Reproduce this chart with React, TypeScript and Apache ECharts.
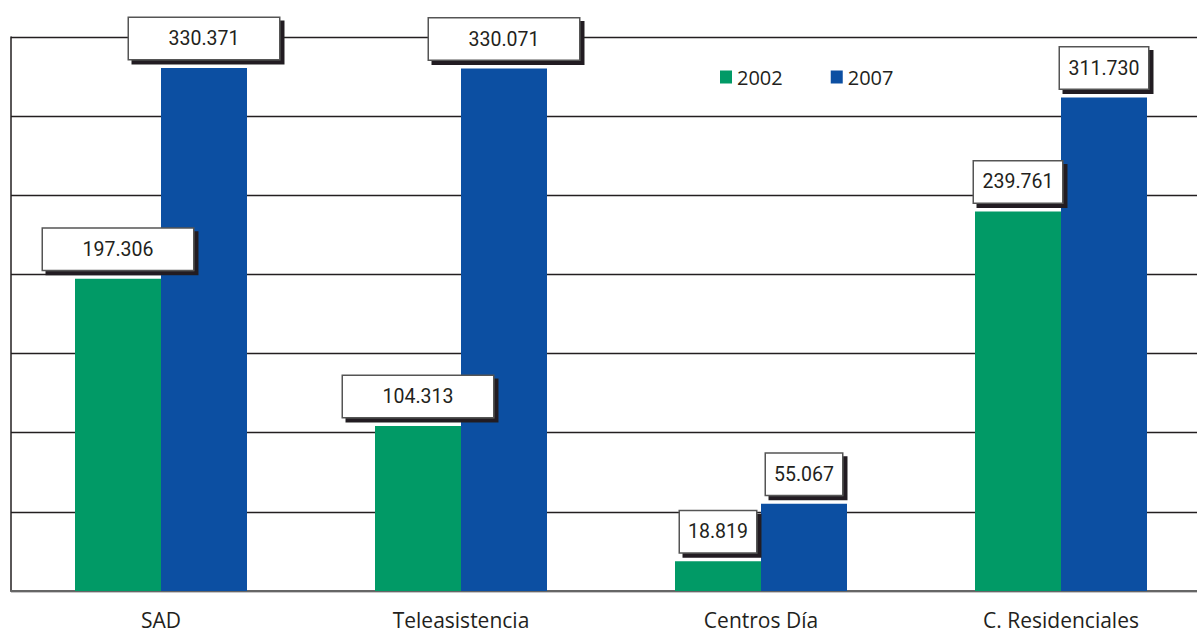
import React, { useEffect, useRef } from "react";
import * as echarts from "echarts";

const categories = ["SAD", "Teleasistencia", "Centros Día", "C. Residenciales"];
const values2002 = [197306, 104313, 18819, 239761];
const values2007 = [330371, 330071, 55067, 311730];
const seriesNames = ["2002", "2007"];

const GREEN = "#019a66";
const BLUE = "#0c4fa2";
const DARK = "#231f20";
const labelWidths2002 = [150, 150, 76, 88];
const labelWidths2007 = [150, 150, 76, 88];

const fmt = (v: number) => (v / 1000).toFixed(3);

function makeData(vals: number[], widths: number[]) {
  return vals.map((v, i) => ({ value: v, label: { width: widths[i] } }));
}

const labelStyle = {
  show: true,
  position: "top" as const,
  distance: 9,
  formatter: (p: any) => fmt(p.value),
  fontFamily: 'Roboto, "Liberation Sans Narrow", sans-serif',
  fontSize: 19.5,
  color: DARK,
  backgroundColor: "#ffffff",
  borderColor: "#555555",
  borderWidth: 1.5,
  height: 41,
  lineHeight: 41,
  align: "center" as const,
  padding: [0, 0],
  shadowColor: DARK,
  shadowOffsetX: 4,
  shadowOffsetY: 4,
  shadowBlur: 0,
};

export default function App() {
  const ref = useRef<HTMLDivElement>(null);
  useEffect(() => {
    if (!ref.current) return;
    const chart = echarts.init(ref.current, null, { renderer: "svg" });
    chart.setOption({
      animation: false,
      backgroundColor: "#ffffff",
      grid: { left: 11, right: 0, top: 37, bottom: 41, containLabel: false },
      legend: {
        left: 715,
        top: 62,
        itemWidth: 12,
        itemHeight: 13,
        itemGap: 48,
        icon: "rect",
        textStyle: { fontFamily: '"Open Sans", sans-serif', fontSize: 20, color: DARK },
        data: seriesNames,
      },
      xAxis: {
        type: "category",
        data: categories,
        axisLine: { show: true, lineStyle: { color: "#666666", width: 2 } },
        axisTick: { show: false },
        axisLabel: {
          margin: 18,
          fontFamily: '"Open Sans", sans-serif',
          fontSize: 21,
          color: DARK,
        },
      },
      yAxis: {
        type: "value",
        min: 0,
        max: 350000,
        interval: 50000,
        axisLabel: { show: false },
        axisTick: { show: false },
        axisLine: { show: true, lineStyle: { color: DARK, width: 1.5 } },
        splitLine: { show: true, lineStyle: { color: DARK, width: 1.3 } },
      },
      series: [
        {
          name: seriesNames[0],
          type: "bar",
          barWidth: 86,
          barGap: "0%",
          itemStyle: { color: GREEN },
          label: labelStyle,
          data: makeData(values2002, labelWidths2002),
        },
        {
          name: seriesNames[1],
          type: "bar",
          barWidth: 86,
          barGap: "0%",
          itemStyle: { color: BLUE },
          label: labelStyle,
          data: makeData(values2007, labelWidths2007),
        },
      ],
    });
    return () => chart.dispose();
  }, []);
  return (
    <div
      ref={ref}
      style={{ position: "fixed", left: 0, top: 0, width: 1211, height: 632 }}
    />
  );
}
